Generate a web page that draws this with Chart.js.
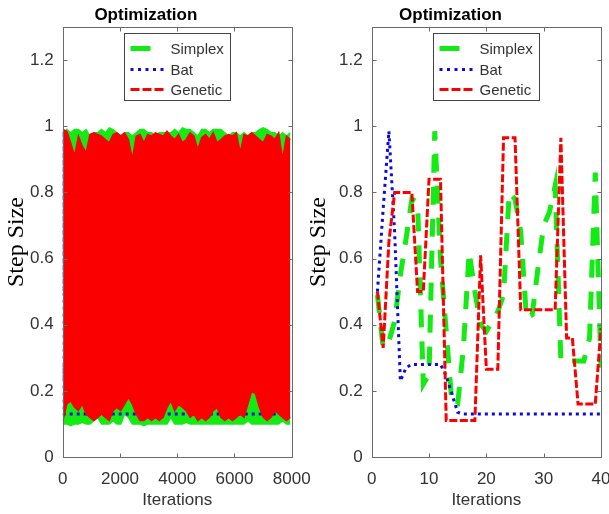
<!DOCTYPE html>
<html>
<head>
<meta charset="utf-8">
<script src="https://cdn.jsdelivr.net/npm/chart.js@4.4.0/dist/chart.umd.min.js"></script>
<style>
  body { margin: 0; background: #fff; }
  #quadro { position: relative; width: 609px; height: 514px; overflow: hidden; }
  canvas { position: absolute; top: 0; }
  #graficoLongo { left: 0; }
  #graficoCurto { left: 300px; }
</style>
</head>
<body>
<div id="quadro">
  <canvas id="graficoLongo" width="315" height="514"></canvas>
  <canvas id="graficoCurto" width="309" height="514"></canvas>
</div>
<script>
// ticks dos eixos
var ticksY = [0, 0.2, 0.4, 0.6, 0.8, 1, 1.2]
var ticksXLongo = [0, 2000, 4000, 6000, 8000]
var ticksXCurto = [0, 10, 20, 30, 40]

// execucao curta (40 iteracoes)
var iteracoes = [1, 2, 3, 4, 5, 6, 7, 8, 9, 10, 11, 12, 13, 14, 15, 16, 17, 18, 19, 20,
    21, 22, 23, 24, 25, 26, 27, 28, 29, 30, 31, 32, 33, 34, 35, 36, 37, 38, 39, 40]
var simplexCurto = [0.49, 0.33, 0.35, 0.41, 0.55, 0.66, 0.78, 0.77, 0.22, 0.25,
    0.985, 0.6, 0.38, 0.16, 0.16, 0.33, 0.62, 0.5, 0.4, 0.38,
    0.41, 0.44, 0.49, 0.8, 0.78, 0.68, 0.42, 0.43, 0.57, 0.7,
    0.74, 0.82, 0.29, 0.29, 0.29, 0.29, 0.29, 0.36, 0.86, 0.27]
var batCurto = [0.5, 0.75, 0.985, 0.68, 0.23, 0.27, 0.28, 0.28, 0.28, 0.28,
    0.28, 0.28, 0.245, 0.19, 0.135, 0.13, 0.13, 0.13, 0.13, 0.13,
    0.13, 0.13, 0.13, 0.13, 0.13, 0.13, 0.13, 0.13, 0.13, 0.13,
    0.13, 0.13, 0.13, 0.13, 0.13, 0.13, 0.13, 0.13, 0.13, 0.13]
var geneticCurto = [0.5, 0.33, 0.65, 0.8, 0.8, 0.8, 0.8, 0.5, 0.5, 0.84,
    0.84, 0.84, 0.11, 0.11, 0.11, 0.11, 0.11, 0.11, 0.61, 0.265,
    0.265, 0.265, 0.965, 0.965, 0.965, 0.445, 0.445, 0.445, 0.445, 0.445,
    0.445, 0.445, 0.965, 0.36, 0.36, 0.16, 0.16, 0.16, 0.16, 0.39]

// execucao longa (8000 iteracoes): a oscilacao e tao densa que vira uma faixa,
// entao guardo o pico e o vale de cada trecho
var primeiraIteracao = 10
var ultimaIteracao = 7950
var simplexAltos = [0.98, 0.99, 0.98, 0.99, 0.99, 0.98, 0.99, 0.97, 0.98, 0.98,
    0.99, 0.98, 0.995, 0.99, 0.98, 0.97, 0.98, 0.98, 0.97, 0.98,
    0.99, 0.99, 0.98, 0.98, 0.97, 0.98, 0.98, 0.98, 0.98, 0.99,
    0.98, 0.995, 0.99, 0.99, 0.98, 0.97, 0.99, 0.99, 0.98, 0.99,
    0.99, 0.99, 0.98, 0.97, 0.98, 0.98, 0.97, 0.98, 0.97, 0.98,
    0.98, 0.99, 0.995, 0.99, 0.98, 0.98, 0.97, 0.98, 0.97, 0.98]
var simplexBaixos = [0.1, 0.1, 0.095, 0.1, 0.1, 0.105, 0.1, 0.1, 0.11, 0.12,
    0.1, 0.1, 0.1, 0.11, 0.1, 0.1, 0.13, 0.12, 0.1, 0.1,
    0.1, 0.095, 0.1, 0.1, 0.1, 0.1, 0.1, 0.1, 0.12, 0.1,
    0.1, 0.1, 0.105, 0.1, 0.1, 0.1, 0.1, 0.1, 0.1, 0.1,
    0.1, 0.1, 0.1, 0.1, 0.1, 0.1, 0.1, 0.1, 0.11, 0.1,
    0.1, 0.1, 0.1, 0.1, 0.1, 0.1, 0.1, 0.11, 0.1, 0.1]
var geneticAltos = [0.99, 0.985, 0.95, 0.91, 0.97, 0.94, 0.92, 0.975, 0.98, 0.975,
    0.97, 0.96, 0.95, 0.975, 0.98, 0.97, 0.98, 0.96, 0.9, 0.97,
    0.975, 0.95, 0.975, 0.97, 0.98, 0.975, 0.97, 0.985, 0.97, 0.96,
    0.975, 0.95, 0.96, 0.98, 0.97, 0.93, 0.965, 0.975, 0.96, 0.98,
    0.95, 0.96, 0.97, 0.975, 0.97, 0.98, 0.92, 0.975, 0.97, 0.98,
    0.97, 0.96, 0.95, 0.975, 0.97, 0.96, 0.98, 0.9, 0.97, 0.96]
var geneticBaixos = [0.11, 0.16, 0.17, 0.15, 0.14, 0.16, 0.13, 0.12, 0.11, 0.12,
    0.13, 0.12, 0.11, 0.14, 0.15, 0.14, 0.16, 0.18, 0.16, 0.13,
    0.11, 0.11, 0.12, 0.11, 0.12, 0.11, 0.12, 0.15, 0.17, 0.14,
    0.16, 0.15, 0.14, 0.12, 0.13, 0.11, 0.12, 0.11, 0.12, 0.14,
    0.15, 0.12, 0.11, 0.12, 0.11, 0.12, 0.13, 0.12, 0.16, 0.2,
    0.19, 0.15, 0.12, 0.11, 0.12, 0.14, 0.13, 0.12, 0.11, 0.12]

var fonte = '"Liberation Sans", Arial, sans-serif'
var corTexto = '#333333'

// estilo de cada algoritmo (linha e legenda)
var estilos = {
    Simplex: { cor: 'rgb(20, 235, 20)', largura: 5, traco: [18, 14], amostra: [20, 40] },
    Bat: { cor: 'rgb(10, 10, 225)', largura: 3, traco: [3, 4], amostra: [3, 4.5] },
    Genetic: { cor: 'rgb(250, 0, 0)', largura: 3, traco: [8, 2.5], amostra: [9, 3] }
}

function pares(valores) {
    return iteracoes.map((x, i) => ({ x: x, y: valores[i] }))
}

// pontos da faixa longa espalhados de primeiraIteracao ate ultimaIteracao
function trecho(valores) {
    var passo = (ultimaIteracao - primeiraIteracao) / (valores.length - 1)
    return valores.map((v, i) => ({ x: Math.round(primeiraIteracao + i * passo), y: v }))
}

function serie(nome, pontos, ordem) {
    var e = estilos[nome]
    return {
        label: nome,
        data: pontos,
        borderColor: e.cor,
        borderWidth: e.largura,
        borderDash: e.traco,
        borderCapStyle: 'butt',
        pointRadius: 0,
        tension: 0,
        fill: false,
        order: ordem
    }
}

// faixa preenchida entre o pico e o vale (o de cima preenche ate o de baixo)
function faixa(nome, altos, baixos, ordem) {
    var cor = estilos[nome].cor
    return [
        { label: nome, data: trecho(altos), borderColor: cor, backgroundColor: cor, borderWidth: 1.5,
          pointRadius: 0, tension: 0, fill: '+1', order: ordem + 1 },
        { label: nome, data: trecho(baixos), borderColor: cor, backgroundColor: cor, borderWidth: 1.5,
          pointRadius: 0, tension: 0, fill: false, order: ordem }
    ]
}

// moldura, ticks para dentro e legenda com caixa
var moldura = {
    id: 'moldura',
    afterDatasetsDraw(chart, args, opts) {
        var ctx = chart.ctx
        var area = chart.chartArea
        var sx = chart.scales.x
        var sy = chart.scales.y
        var l = Math.round(area.left) + 0.5
        var r = Math.round(area.right) + 0.5
        var t = Math.round(area.top) + 0.5
        var b = Math.round(area.bottom) + 0.5

        ctx.save()
        ctx.setLineDash([])
        ctx.strokeStyle = '#6a6a6a'
        ctx.lineWidth = 1
        ctx.strokeRect(l, t, r - l, b - t)
        ctx.beginPath()
        opts.ticksX.forEach(v => {
            var px = Math.round(sx.getPixelForValue(v)) + 0.5
            ctx.moveTo(px, b); ctx.lineTo(px, b - 4)
            ctx.moveTo(px, t); ctx.lineTo(px, t + 4)
        })
        ticksY.forEach(v => {
            var py = Math.round(sy.getPixelForValue(v)) + 0.5
            ctx.moveTo(l, py); ctx.lineTo(l + 4, py)
            ctx.moveTo(r, py); ctx.lineTo(r - 4, py)
        })
        ctx.stroke()

        // legenda
        var cx = (area.left + area.right) / 2
        var caixa = { x: Math.round(cx - 53) + 0.5, y: Math.round(area.top + 6) + 0.5, w: 106, h: 67 }
        ctx.fillStyle = '#fff'
        ctx.fillRect(caixa.x, caixa.y, caixa.w, caixa.h)
        ctx.strokeStyle = '#444'
        ctx.strokeRect(caixa.x, caixa.y, caixa.w, caixa.h)

        var linhas = [15, 36, 56]
        ctx.font = '15px ' + fonte
        ctx.textAlign = 'left'
        ctx.textBaseline = 'middle'
        Object.keys(estilos).forEach((nome, i) => {
            var e = estilos[nome]
            var y = caixa.y + linhas[i]
            ctx.beginPath()
            ctx.strokeStyle = e.cor
            ctx.lineWidth = e.largura
            ctx.lineCap = 'butt'
            ctx.setLineDash(e.amostra)
            ctx.moveTo(caixa.x + 6, y)
            ctx.lineTo(caixa.x + 42, y)
            ctx.stroke()
            ctx.fillStyle = corTexto
            ctx.fillText(nome, caixa.x + 46, y + 1)
        })
        ctx.restore()
    }
}

function configurar(datasets, ticksX, maxX, larguraY, padDireita, padTituloY) {
    return {
        type: 'line',
        data: { datasets: datasets },
        options: {
            responsive: false,
            devicePixelRatio: 1,
            animation: false,
            events: [],
            layout: { padding: { left: 0, top: 0, right: padDireita, bottom: 0 } },
            plugins: {
                legend: { display: false },
                tooltip: { enabled: false },
                filler: { drawTime: 'beforeDatasetDraw' },
                title: {
                    display: true,
                    text: 'Optimization',
                    color: '#000',
                    font: { family: fonte, size: 17, weight: 'bold' },
                    padding: { top: 5, bottom: 1.6 }
                },
                moldura: { ticksX: ticksX }
            },
            scales: {
                x: {
                    type: 'linear',
                    min: 0,
                    max: maxX,
                    afterBuildTicks: s => { s.ticks = ticksX.map(v => ({ value: v })) },
                    afterFit: s => { s.height = 57; s.paddingLeft = 0; s.paddingRight = 0 },
                    grid: { display: false, drawTicks: false },
                    border: { display: false },
                    ticks: {
                        color: corTexto, padding: 12, maxRotation: 0, autoSkip: false,
                        font: { family: fonte, size: 17 },
                        callback: v => String(v)
                    },
                    title: {
                        display: true, text: 'Iterations', color: corTexto,
                        font: { family: fonte, size: 17 },
                        padding: { top: 0, bottom: 3 }
                    }
                },
                y: {
                    type: 'linear',
                    min: 0,
                    max: 1.3,
                    afterBuildTicks: s => { s.ticks = ticksY.map(v => ({ value: v })) },
                    afterFit: s => { s.width = larguraY; s.paddingTop = 0; s.paddingBottom = 0 },
                    grid: { display: false, drawTicks: false },
                    border: { display: false },
                    ticks: {
                        color: corTexto, padding: 9, autoSkip: false,
                        font: { family: fonte, size: 17 },
                        callback: v => String(v)
                    },
                    title: {
                        display: true, text: 'Step Size', color: '#000',
                        font: { family: '"Liberation Serif", "Times New Roman", serif', size: 24 },
                        padding: { top: padTituloY, bottom: 0 }
                    }
                }
            }
        },
        plugins: [moldura]
    }
}

// grafico da execucao longa: Genetic por cima, depois Bat, Simplex no fundo
var batLongo = pares(batCurto).concat([{ x: ultimaIteracao, y: batCurto[batCurto.length - 1] }])
new Chart(document.getElementById('graficoLongo'), configurar(
    faixa('Simplex', simplexAltos, simplexBaixos, 4)
        .concat([serie('Bat', batLongo, 2)])
        .concat(faixa('Genetic', geneticAltos, geneticBaixos, 0)),
    ticksXLongo, 8000, 62.7, 315 - 291.7, 2.5))

// grafico da execucao curta
new Chart(document.getElementById('graficoCurto'), configurar([
    serie('Simplex', pares(simplexCurto), 2),
    serie('Bat', pares(batCurto), 1),
    serie('Genetic', pares(geneticCurto), 0)
], ticksXCurto, 40, 71.7, 8, 4.6))
</script>
</body>
</html>
